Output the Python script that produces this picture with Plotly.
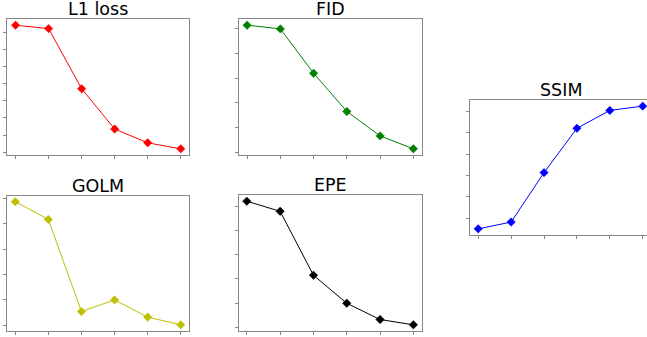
import numpy as np
import plotly.graph_objects as go

steps = [0, 1, 2, 3, 4, 5]

l1_loss = [0.0448, 0.0444, 0.0374, 0.0327, 0.0311, 0.0304]
fid = [71.5, 70.0, 52.0, 36.5, 26.6, 21.35]
golm = [0.444, 0.409, 0.227, 0.250, 0.216, 0.2007]
epe = [1.521, 1.479, 1.215, 1.099, 1.032, 1.010]
ssim = [0.7949, 0.7981, 0.8213, 0.8421, 0.8505, 0.8525]

titles = ["L1 loss", "FID", "GOLM", "EPE", "SSIM"]
series = [l1_loss, fid, golm, epe, ssim]
colors = ["#ff0000", "#008000", "#bfbf00", "#000000", "#0000ff"]
ytick0 = [0.030, 20, 0.20, 1.00, 0.80]
ystep = [0.002, 10, 0.05, 0.1, 0.01]

W, H = 647, 337
# pixel boxes: left, right, top, bottom
boxes = [
    (7.3, 189.0, 19.0, 155.0),
    (238.8, 421.7, 19.0, 155.0),
    (7.0, 189.0, 195.5, 331.0),
    (238.5, 421.7, 195.0, 331.0),
    (470.0, 647.0, 100.0, 235.0),
]
xranges = [[-0.25, 5.25]] * 4 + [[-0.25, 5.13]]

fig = go.Figure()
layout = dict(width=W, height=H, margin=dict(l=0, r=0, t=0, b=0),
              paper_bgcolor="white", plot_bgcolor="white", showlegend=False)
annotations = []
for i, (name, vals, col) in enumerate(zip(titles, series, colors)):
    k = "" if i == 0 else str(i + 1)
    fig.add_trace(go.Scatter(x=steps, y=vals, mode="lines+markers",
                             line=dict(color=col, width=1),
                             marker=dict(symbol="diamond", size=6.5, color=col,
                                         line=dict(color=col, width=0.5)),
                             xaxis="x" + k, yaxis="y" + k))
    l, r, t, b = boxes[i]
    vmin, vmax = min(vals), max(vals)
    span = vmax - vmin
    yr = [vmin - 0.05 * span, vmax + 0.05 * span]
    axcommon = dict(showgrid=False, zeroline=False, showticklabels=False,
                    ticks="outside", ticklen=3, tickwidth=1, tickcolor="#888888",
                    showline=True, linecolor="#888888", linewidth=1)
    layout["xaxis" + k] = dict(domain=[l / W, r / W], range=xranges[i],
                              anchor="y" + k, tickmode="array", tickvals=steps,
                              mirror=True, **axcommon)
    layout["yaxis" + k] = dict(domain=[1 - b / H, 1 - t / H], range=yr,
                              anchor="x" + k, tick0=ytick0[i], dtick=ystep[i],
                              mirror=(i != 4), **axcommon)
    annotations.append(dict(text=name, x=(l + (r if i != 4 else 651.7)) / 2 / W,
                            y=1 - t / H, xref="paper", yref="paper",
                            xanchor="center", yanchor="bottom", yshift=-2,
                            showarrow=False,
                            font=dict(family="DejaVu Sans", size=17.5, color="#000000")))
layout["annotations"] = annotations
fig.update_layout(**layout)
fig.write_html("out.html", config={"displayModeBar": False},
               post_script="document.body.style.margin='0';document.body.style.overflow='hidden';")
